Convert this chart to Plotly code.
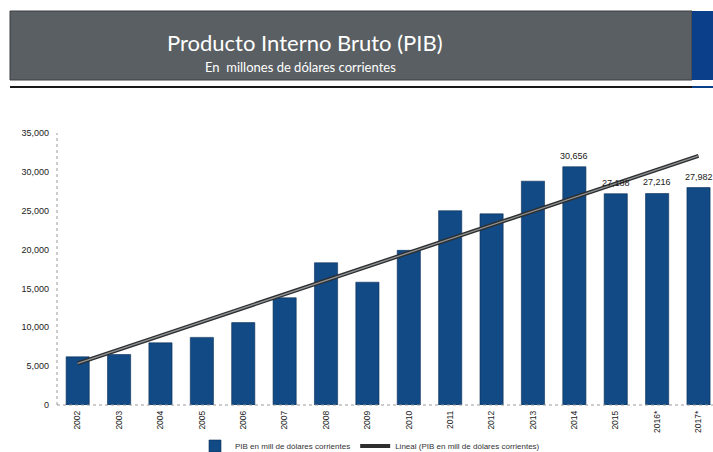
import numpy as np
import plotly.graph_objects as go

years = ["2002", "2003", "2004", "2005", "2006", "2007", "2008", "2009",
         "2010", "2011", "2012", "2013", "2014", "2015", "2016*", "2017*"]
pib = [6200, 6500, 8000, 8700, 10600, 13800, 18300, 15800,
       19900, 25000, 24600, 28800, 30656, 27188, 27216, 27982]
bar_labels = ["", "", "", "", "", "", "", "", "", "", "", "", "30,656", "27,188", "27,216", "27,982"]
y_ticks = [0, 5000, 10000, 15000, 20000, 25000, 30000, 35000]

# Linear trendline (least squares fit, as in the original spreadsheet)
idx = np.arange(len(pib))
slope, intercept = np.polyfit(idx, pib, 1)
trend = [slope * i + intercept for i in idx]

BAR = "#114a84"
fig = go.Figure()
fig.add_trace(go.Bar(
    x=years, y=pib, name="PIB en mill de dólares corrientes",
    marker=dict(color=BAR, line=dict(color="#0b2f58", width=0.6)),
))
fig.add_trace(go.Scatter(
    x=[years[0], years[-1]], y=[trend[0], trend[-1]], mode="lines",
    name="Lineal (PIB en mill de dólares corrientes)",
    line=dict(color="#2e2e2e", width=4),
))
fig.add_trace(go.Scatter(
    x=[years[0], years[-1]], y=[trend[0], trend[-1]], mode="lines",
    showlegend=False, hoverinfo="skip",
    line=dict(color="#8f9497", width=1.3),
))

W, H = 713, 452
L, R, T, B = 57, 713, 133, 405
pw, ph = R - L, B - T

def xp(px):
    return (px - L) / pw

def yp(py):
    return (B - py) / ph

shapes = [
    # header band
    dict(type="rect", xref="paper", yref="paper", x0=xp(10), x1=xp(692), y0=yp(80), y1=yp(11),
         fillcolor="#5a5f63", line=dict(color="#3a3d40", width=1), layer="below"),
    dict(type="rect", xref="paper", yref="paper", x0=xp(692), x1=xp(716), y0=yp(80), y1=yp(11),
         fillcolor="#0b3f8a", line=dict(width=0), layer="below"),
    dict(type="line", xref="paper", yref="paper", x0=xp(10), x1=xp(692), y0=yp(87), y1=yp(87),
         line=dict(color="#1a1a1a", width=2)),
    dict(type="line", xref="paper", yref="paper", x0=xp(692), x1=xp(716), y0=yp(87), y1=yp(87),
         line=dict(color="#0b3f8a", width=2)),
    # dotted axes
    dict(type="line", xref="paper", yref="paper", x0=0, x1=0, y0=0, y1=1,
         line=dict(color="#9a9a9a", width=1, dash="dot")),
    dict(type="line", xref="paper", yref="paper", x0=0, x1=1, y0=0, y1=0,
         line=dict(color="#9a9a9a", width=1, dash="dot")),
]

annotations = [
    dict(text="Producto Interno Bruto (PIB)", xref="paper", yref="paper",
         x=xp(305), y=yp(42), showarrow=False, xanchor="center", yanchor="middle",
         font=dict(family="Lato", size=22, color="white")),
    dict(text="En  millones de dólares corrientes", xref="paper", yref="paper",
         x=xp(300), y=yp(67), showarrow=False, xanchor="center", yanchor="middle",
         font=dict(family="Lato", size=13, color="white")),
]
for i, (val, lab) in enumerate(zip(pib, bar_labels)):
    if lab:
        annotations.append(dict(
            text=lab, x=i, y=val, xref="x", yref="y", showarrow=False,
            xanchor="center", yanchor="middle", yshift=11,
            font=dict(size=9, color="#1a1a1a", family="Liberation Sans"),
        ))

fig.update_layout(
    width=W, height=H,
    margin=dict(l=L, r=W - R, t=T, b=H - B, autoexpand=False),
    paper_bgcolor="white", plot_bgcolor="white",
    bargap=0.44,
    shapes=shapes, annotations=annotations,
    showlegend=True,
    legend=dict(orientation="h", x=xp(370), xanchor="center", y=yp(446), yanchor="middle",
                font=dict(size=8, color="#333333", family="Liberation Sans"),
                itemwidth=30, bgcolor="rgba(0,0,0,0)"),
    xaxis=dict(type="category", range=[-0.5, 15.35], showgrid=False, showline=False, zeroline=False,
               tickangle=-90, ticks="", ticklabelstandoff=3,
               tickfont=dict(size=8.5, color="#222222", family="Liberation Sans")),
    yaxis=dict(range=[0, 35000], tickvals=y_ticks, tickformat=",", showgrid=False,
               showline=False, zeroline=False, ticks="", ticklabelstandoff=7,
               tickfont=dict(size=9, color="#222222", family="Liberation Sans")),
)

fig.write_html(
    "out.html",
    config={"displayModeBar": False},
    post_script="document.body.style.margin='0';document.body.style.overflow='hidden';",
)
